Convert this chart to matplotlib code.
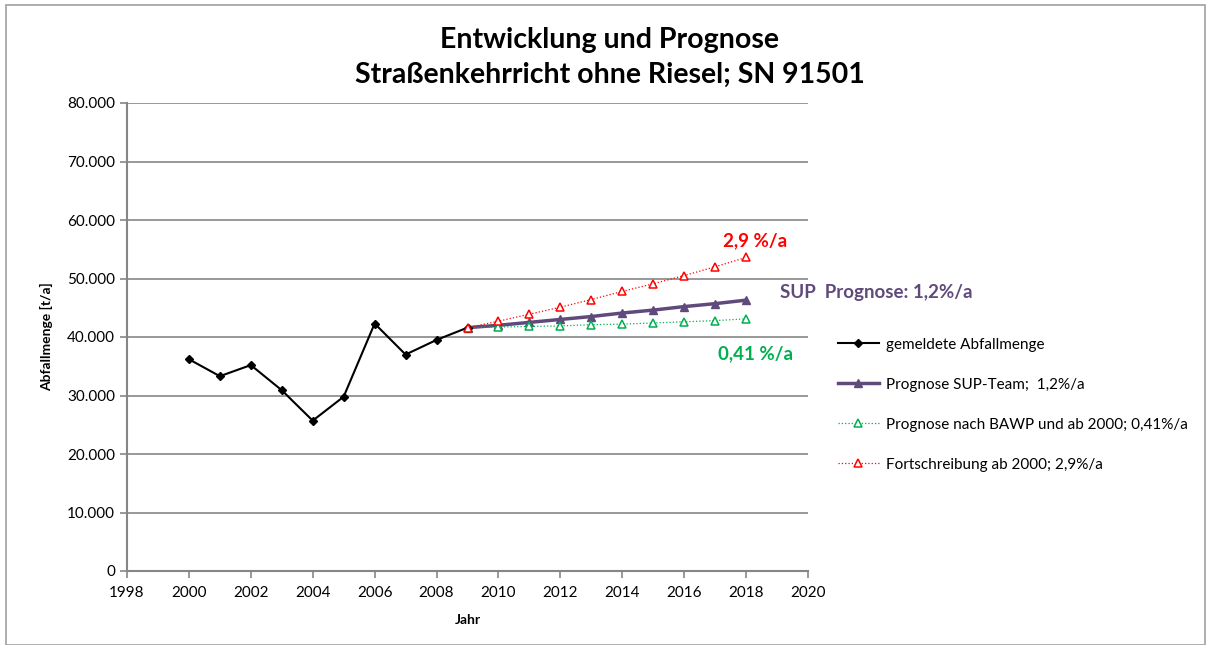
import matplotlib
matplotlib.use("Agg")
import matplotlib.pyplot as plt
from matplotlib.ticker import FuncFormatter, MultipleLocator
from matplotlib.patches import Rectangle

plt.rcParams['font.family'] = ['Lato', 'DejaVu Sans']

years_hist = [2000, 2001, 2002, 2003, 2004, 2005, 2006, 2007, 2008, 2009]
hist_vals = [36200, 33300, 35200, 30900, 25700, 29800, 42300, 37000, 39500, 41600]

years_fc = [2009, 2010, 2011, 2012, 2013, 2014, 2015, 2016, 2017, 2018]
sup_vals = [41600, 42000, 42500, 43000, 43500, 44100, 44600, 45200, 45700, 46300]
bawp_vals = [41600, 41700, 41800, 41900, 42100, 42200, 42400, 42600, 42800, 43100]
fort_vals = [41600, 42700, 43900, 45100, 46400, 47800, 49100, 50500, 52000, 53600]

labels = ["gemeldete Abfallmenge", "Prognose SUP-Team;  1,2%/a",
          "Prognose nach BAWP und ab 2000; 0,41%/a", "Fortschreibung ab 2000; 2,9%/a"]

purple = '#604A7B'
red = '#FF0000'
green = '#00B050'

fig = plt.figure(figsize=(12.1, 6.45), dpi=100)
ax = fig.add_axes([127/1210, 1-571/645, (808-127)/1210, (571-103)/645])

ax.plot(years_hist, hist_vals, color='black', lw=1.5, marker='D', ms=4.5, label=labels[0], zorder=4)
ax.plot(years_fc, sup_vals, color=purple, lw=2.5, marker='^', ms=6, label=labels[1], zorder=3)
ax.plot(years_fc, bawp_vals, color=green, lw=0.9, ls=':', marker='^', ms=5.5, mfc='white', mec=green, mew=1.1, label=labels[2], zorder=3)
ax.plot(years_fc, fort_vals, color=red, lw=0.9, ls=':', marker='^', ms=5.5, mfc='white', mec=red, mew=1.1, label=labels[3], zorder=5)

ax.set_xlim(1998, 2020)
ax.set_ylim(0, 80000)
ax.xaxis.set_major_locator(MultipleLocator(2))
ax.yaxis.set_major_locator(MultipleLocator(10000))
ax.yaxis.set_major_formatter(FuncFormatter(lambda v, p: f"{int(v):,}".replace(",", ".")))
ax.grid(axis='y', color='#868686', lw=1.2)
ax.set_axisbelow(True)
for s in ['top', 'right']:
    ax.spines[s].set_visible(False)
for s in ['left', 'bottom']:
    ax.spines[s].set_color('#868686')
    ax.spines[s].set_linewidth(1.5)
ax.tick_params(axis='both', colors='#868686', labelcolor='black', labelsize=11, length=5, width=1.2)
ax.tick_params(axis='x', pad=6)

ax.set_xlabel('Jahr', fontsize=10, fontweight='bold', labelpad=10)
ax.set_ylabel('Abfallmenge [t/a]', fontsize=10, fontweight='bold', labelpad=10)

fig.text(610/1210, 1-40/645, 'Entwicklung und Prognose', ha='center', va='center', fontsize=20.5, fontweight='bold')
fig.text(610/1210, 1-75/645, 'Straßenkehrricht ohne Riesel; SN 91501', ha='center', va='center', fontsize=20.5, fontweight='bold')

fig.text(755/1210, 1-241/645, '2,9 %/a', ha='center', va='center', fontsize=13.5, fontweight='bold', color=red)
fig.text(780/1210, 1-292/645, 'SUP  Prognose: 1,2%/a', ha='left', va='center', fontsize=13.5, fontweight='bold', color=purple)
fig.text(755/1210, 1-354/645, '0,41 %/a', ha='center', va='center', fontsize=13.5, fontweight='bold', color=green)

leg = ax.legend(loc='upper left', bbox_to_anchor=(824/1210, 1-324/645), bbox_transform=fig.transFigure,
                frameon=False, fontsize=11, labelspacing=1.7, handlelength=2.7, handletextpad=0.45)

fig.patches.append(Rectangle((6/1210, 0.0), 1199/1210, 1-5/645, transform=fig.transFigure,
                             fill=False, edgecolor='#A0A0A0', lw=1.2))

fig.savefig('out.png', dpi=100)
